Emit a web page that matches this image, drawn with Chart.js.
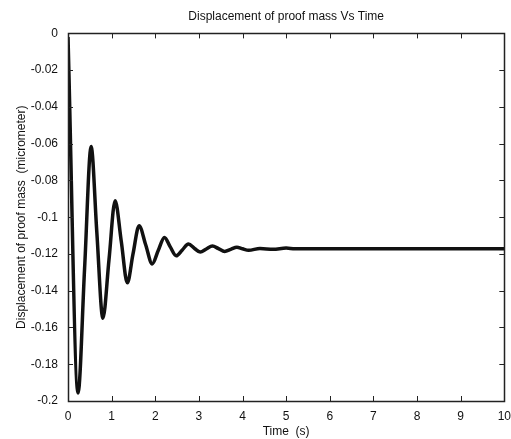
<!DOCTYPE html>
<html>
<head>
<meta charset="utf-8">
<script src="https://cdn.jsdelivr.net/npm/chart.js@4/dist/chart.umd.min.js"></script>
<style>
  html, body { margin: 0; padding: 0; background: #fff; }
  #wrap { width: 511px; height: 439px; }
</style>
</head>
<body>
<div id="wrap"><canvas id="dispChart" width="511" height="439"></canvas></div>
<script>
// time (s) and displacement (micrometer)
const timeS = [0, 0.23, 0.38, 0.53, 0.66, 0.80, 0.94, 1.08, 1.22, 1.36, 1.49, 1.63, 1.78, 1.93,
  2.07, 2.21, 2.34, 2.48, 2.62, 2.76, 2.90, 3.03, 3.17, 3.31, 3.45, 3.59, 3.73, 3.87, 4.00,
  4.14, 4.40, 4.70, 5.00, 5.20, 10];
const displacement = [-0.002, -0.1956, -0.128, -0.0616, -0.108, -0.155, -0.123, -0.091, -0.113,
  -0.1357, -0.120, -0.1046, -0.115, -0.1254, -0.118, -0.111, -0.116, -0.121, -0.1178, -0.1146,
  -0.117, -0.119, -0.1173, -0.1157, -0.1171, -0.1186, -0.1175, -0.1163, -0.1172, -0.1180,
  -0.1170, -0.1175, -0.1168, -0.1172, -0.1172];
const xTicks = [0, 1, 2, 3, 4, 5, 6, 7, 8, 9, 10];
const yTicks = [0, -0.02, -0.04, -0.06, -0.08, -0.1, -0.12, -0.14, -0.16, -0.18, -0.2];

const FONT = 'Liberation Sans, Arial, sans-serif';

// matlab style box with inward ticks on all four sides
const boxTicks = {
  id: 'boxTicks',
  afterDraw(chart) {
    const { ctx, chartArea: a, scales: { x, y } } = chart;
    const len = 5;
    ctx.save();
    ctx.strokeStyle = '#222';
    ctx.lineWidth = 1;
    ctx.beginPath();
    xTicks.forEach(v => {
      const px = Math.round(x.getPixelForValue(v)) + 0.5;
      ctx.moveTo(px, a.bottom); ctx.lineTo(px, a.bottom - len);
      ctx.moveTo(px, a.top); ctx.lineTo(px, a.top + len);
    });
    yTicks.forEach(v => {
      const py = Math.round(y.getPixelForValue(v)) + 0.5;
      ctx.moveTo(a.left, py); ctx.lineTo(a.left + len, py);
      ctx.moveTo(a.right, py); ctx.lineTo(a.right - len, py);
    });
    ctx.stroke();
    ctx.lineWidth = 1.5;
    ctx.strokeRect(Math.round(a.left) + 0.5, Math.round(a.top) + 0.5,
      Math.round(a.right - a.left), Math.round(a.bottom - a.top));
    ctx.restore();
  }
};

new Chart(document.getElementById('dispChart'), {
  type: 'line',
  data: {
    datasets: [{
      data: timeS.map((t, i) => ({ x: t, y: displacement[i] })),
      borderColor: '#111',
      borderWidth: 3.5,
      pointRadius: 0,
      cubicInterpolationMode: 'monotone',
      fill: false
    }]
  },
  options: {
    responsive: false,
    animation: false,
    layout: { padding: { left: 10, right: 5, top: 0, bottom: 0 } },
    plugins: {
      legend: { display: false },
      tooltip: { enabled: false },
      title: {
        display: true,
        fullSize: false,
        text: 'Displacement of proof mass Vs Time',
        color: '#111',
        font: { family: FONT, size: 12, weight: 'normal' },
        padding: { top: 9, bottom: 10 }
      }
    },
    scales: {
      x: {
        type: 'linear',
        min: 0,
        max: 10,
        grid: { display: false },
        border: { display: false },
        afterBuildTicks: s => { s.ticks = xTicks.map(v => ({ value: v })); },
        afterFit: s => { s.height = 38; },
        ticks: { color: '#111', padding: 0, font: { family: FONT, size: 12 }, maxRotation: 0 },
        title: {
          display: true,
          text: 'Time  (s)',
          color: '#111',
          font: { family: FONT, size: 12 },
          padding: { top: 0, bottom: 0 }
        }
      },
      y: {
        min: -0.2,
        max: 0,
        grid: { display: false },
        border: { display: false },
        afterBuildTicks: s => { s.ticks = yTicks.map(v => ({ value: v })); },
        afterFit: s => { s.width = 58; },
        ticks: {
          color: '#111',
          padding: 2,
          font: { family: FONT, size: 12 },
          callback: v => String(Math.round(v * 100) / 100)
        },
        title: {
          display: true,
          text: 'Displacement of proof mass  (micrometer)',
          color: '#111',
          font: { family: FONT, size: 12 },
          padding: { top: 4, bottom: 0 }
        }
      }
    }
  },
  plugins: [boxTicks]
});
</script>
</body>
</html>
